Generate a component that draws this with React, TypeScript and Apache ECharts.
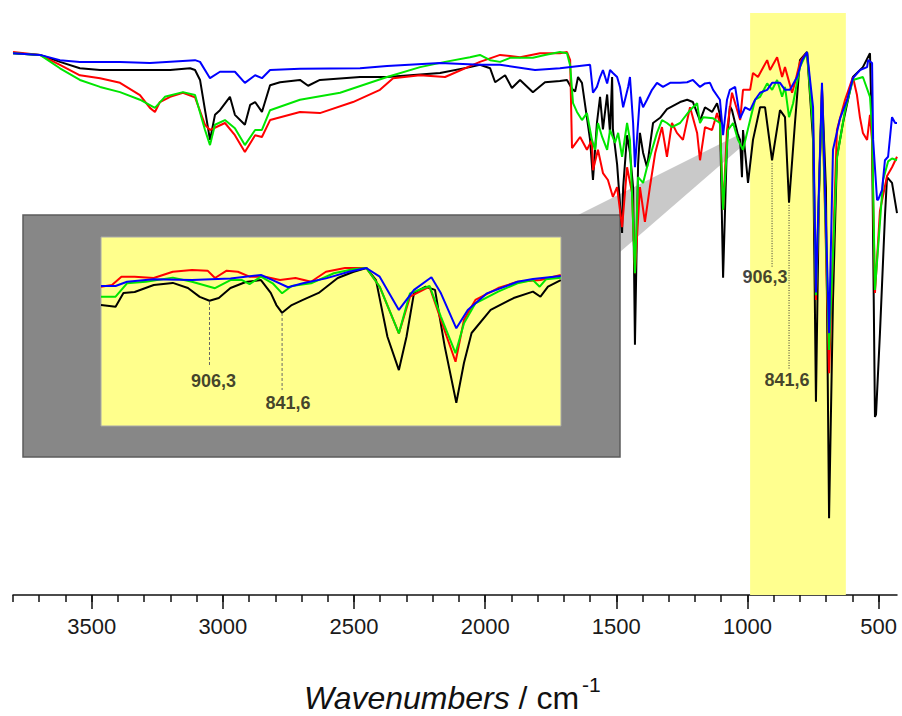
import React, { useEffect, useRef } from "react";
import * as echarts from "echarts";

// Wavenumber axis (cm-1) — labelled and minor tick positions
const majorTicks = [3500, 3000, 2500, 2000, 1500, 1000, 500];
const minorTicks = [
  3800, 3700, 3600, 3500, 3400, 3300, 3200, 3100, 3000, 2900, 2800, 2700, 2600,
  2500, 2400, 2300, 2200, 2100, 2000, 1900, 1800, 1700, 1600, 1500, 1400, 1300,
  1200, 1100, 1000, 900, 800, 700, 600, 500,
];

// Highlighted region of the full spectrum (cm-1)
const highlightRange = [990, 625];

// Full spectra: [wavenumber, transmittance %]
const blackMain = [
  [3800, 93.1], [3697, 92.8], [3621, 91.6], [3545, 90.5], [3468, 90.2], [3316, 90.2], [3201, 90.2],
  [3125, 90.5], [3106, 90.2], [3087, 88.5], [3068, 83.3], [3049, 78.2], [3030, 82.5], [3011, 83.3],
  [2973, 85.6], [2954, 82.5], [2916, 80.8], [2896, 84.2], [2877, 84.7], [2851, 83.0], [2820, 87.6],
  [2782, 88.1], [2706, 88.5], [2675, 87.5], [2630, 88.5], [2477, 89.0], [2374, 89.0], [2172, 89.7],
  [2058, 90.7], [2020, 91.1], [1981, 90.5], [1962, 88.1], [1924, 89.3], [1898, 87.1], [1867, 88.5],
  [1818, 86.4], [1772, 88.1], [1715, 88.3], [1688, 88.5], [1669, 87.0], [1657, 86.5], [1646, 89.0],
  [1631, 88.0], [1600, 78.2], [1589, 71.3], [1574, 81.1], [1562, 85.6], [1551, 80.0], [1535, 86.0],
  [1524, 79.4], [1516, 89.0], [1513, 80.0], [1497, 74.0], [1478, 62.2], [1474, 70.0], [1459, 79.0],
  [1448, 76.0], [1436, 70.0], [1429, 43.0], [1417, 74.0], [1410, 79.4], [1398, 76.0], [1383, 73.5],
  [1360, 81.1], [1333, 82.0], [1307, 83.5], [1257, 84.7], [1230, 85.1], [1208, 84.7], [1181, 81.5],
  [1162, 83.8], [1135, 83.0], [1116, 84.5], [1105, 82.5], [1093, 54.5], [1078, 78.0], [1067, 84.0],
  [1059, 83.3], [1036, 79.0], [1028, 78.2], [1021, 71.8], [1017, 79.9], [998, 70.8], [979, 78.2],
  [952, 83.8], [933, 83.8], [906.3, 74.7], [876, 83.3], [857, 82.1], [841.6, 67.4], [819, 81.1],
  [800, 91.9], [773, 93.3], [750, 78.2], [739, 33.2], [727, 70.0], [716, 87.0], [701, 70.0],
  [689, 13.2], [674, 50.7], [659, 75.3], [636, 81.1], [598, 89.0], [560, 90.7], [533, 93.1],
  [525, 78.2], [514, 30.6], [510, 31.0], [495, 45.0], [476, 65.0], [468, 71.8], [449, 70.8], [430, 65.6],
];

const redMain = [
  [3800, 93.3], [3697, 92.8], [3621, 91.1], [3545, 89.3], [3468, 88.8], [3392, 88.0], [3316, 85.9],
  [3278, 83.7], [3259, 83.0], [3240, 84.7], [3201, 85.6], [3152, 86.3], [3106, 85.5], [3068, 80.8],
  [3049, 79.9], [2992, 81.1], [2954, 79.0], [2916, 76.1], [2877, 79.0], [2851, 78.7], [2820, 81.6],
  [2706, 83.0], [2630, 82.8], [2504, 84.7], [2401, 86.8], [2351, 88.8], [2248, 89.3], [2153, 89.0],
  [2020, 91.6], [1943, 92.8], [1867, 92.4], [1791, 93.1], [1715, 93.1], [1688, 93.3], [1676, 91.9],
  [1669, 76.8], [1665, 77.0], [1638, 78.7], [1612, 76.5], [1593, 78.2], [1589, 73.0], [1570, 76.5],
  [1551, 72.5], [1532, 71.3], [1513, 68.4], [1497, 70.1], [1478, 63.2], [1459, 73.5], [1440, 69.1],
  [1429, 55.3], [1410, 70.1], [1391, 64.1], [1372, 70.1], [1352, 75.9], [1326, 80.4], [1307, 75.3],
  [1288, 81.1], [1269, 79.4], [1246, 78.2], [1219, 83.8], [1192, 79.4], [1181, 74.7], [1162, 80.4],
  [1135, 79.9], [1116, 82.8], [1105, 81.0], [1093, 66.2], [1078, 79.9], [1059, 86.3], [1028, 81.6],
  [1017, 86.8], [990, 86.8], [979, 89.7], [960, 89.0], [925, 91.9], [914, 90.2], [887, 92.4],
  [868, 89.0], [857, 90.7], [830, 86.3], [819, 88.0], [800, 91.6], [773, 93.3], [750, 81.1],
  [739, 50.7], [716, 86.8], [689, 38.1], [659, 79.9], [628, 85.1], [598, 89.0], [583, 86.0],
  [571, 82.0], [560, 79.4], [544, 78.2], [533, 82.5], [525, 78.0], [514, 51.9], [495, 66.0],
  [468, 72.0], [449, 73.5], [430, 75.3],
];

const greenMain = [
  [3800, 93.1], [3697, 92.8], [3621, 90.5], [3545, 88.5], [3468, 87.3], [3392, 86.4], [3316, 85.1],
  [3259, 83.7], [3221, 85.6], [3152, 86.4], [3106, 85.9], [3068, 79.9], [3049, 77.3], [3030, 80.8],
  [2992, 81.6], [2954, 80.2], [2916, 77.3], [2877, 79.9], [2851, 79.9], [2820, 83.3], [2706, 85.1],
  [2553, 86.3], [2374, 89.0], [2248, 90.7], [2153, 91.6], [2058, 92.4], [2020, 92.8], [1981, 91.9],
  [1943, 91.6], [1905, 92.3], [1818, 92.3], [1772, 92.8], [1715, 93.3], [1688, 93.1], [1676, 91.0],
  [1665, 84.5], [1650, 83.0], [1631, 81.6], [1612, 82.8], [1593, 78.2], [1581, 76.5], [1570, 81.1],
  [1554, 78.7], [1535, 76.5], [1524, 79.9], [1505, 77.7], [1493, 79.4], [1478, 75.3], [1459, 81.1],
  [1448, 78.2], [1429, 55.3], [1417, 71.8], [1398, 70.8], [1383, 73.5], [1364, 76.5], [1345, 79.4],
  [1326, 81.6], [1307, 81.1], [1288, 80.4], [1257, 81.1], [1219, 83.3], [1192, 84.5], [1181, 81.1],
  [1169, 82.1], [1131, 81.9], [1105, 81.1], [1093, 66.2], [1074, 79.9], [1055, 81.1], [1036, 78.2],
  [1017, 76.5], [990, 81.6], [971, 85.1], [952, 85.6], [925, 87.9], [906, 86.8], [887, 88.5],
  [868, 85.6], [857, 87.3], [841.6, 82.1], [826, 84.5], [800, 90.7], [773, 93.3], [750, 80.0],
  [739, 51.5], [716, 85.9], [689, 42.1], [659, 75.0], [628, 83.3], [598, 88.5], [560, 89.0],
  [533, 85.6], [525, 80.0], [514, 52.4], [495, 64.0], [483, 71.3], [464, 74.5], [449, 75.0], [430, 74.7],
];

const blueMain = [
  [3800, 93.1], [3697, 92.8], [3621, 91.9], [3545, 91.6], [3392, 91.6], [3278, 91.4], [3106, 91.9],
  [3087, 91.6], [3049, 88.8], [3011, 89.9], [2954, 89.9], [2916, 88.0], [2877, 89.3], [2851, 88.8],
  [2820, 90.2], [2706, 90.4], [2477, 90.5], [2374, 90.9], [2172, 91.4], [2020, 91.1], [1943, 91.1],
  [1810, 90.2], [1715, 90.5], [1600, 91.1], [1589, 86.3], [1574, 87.3], [1562, 89.0], [1551, 90.2],
  [1535, 87.9], [1524, 90.2], [1513, 89.7], [1497, 89.0], [1486, 87.3], [1474, 83.8], [1455, 87.3],
  [1448, 89.0], [1436, 81.1], [1429, 73.5], [1410, 85.6], [1398, 83.8], [1383, 85.1], [1364, 86.8],
  [1345, 88.0], [1322, 87.3], [1295, 88.0], [1257, 88.0], [1230, 88.1], [1208, 88.5], [1181, 87.3],
  [1162, 87.9], [1143, 88.0], [1131, 86.8], [1105, 85.1], [1093, 79.0], [1078, 85.1], [1067, 86.8],
  [1047, 87.3], [1028, 81.9], [1009, 83.8], [990, 83.3], [971, 85.1], [952, 86.3], [925, 86.8],
  [906, 88.0], [876, 88.0], [857, 86.8], [838, 86.8], [811, 89.0], [792, 91.9], [773, 93.3],
  [750, 83.8], [739, 52.0], [716, 88.0], [689, 45.0], [674, 76.5], [647, 81.9], [620, 85.1],
  [598, 88.8], [571, 90.2], [544, 90.7], [540, 91.9], [525, 91.4], [521, 78.2], [506, 67.9],
  [502, 67.9], [487, 69.6], [476, 74.7], [464, 75.3], [449, 82.1], [437, 81.1], [430, 81.1],
];

// Expanded view of 1003–593 cm-1
const insetRange = [593, 1003];

const blackInset = [
  [1003, 64.0], [990, 63.1], [983, 70.4], [973, 70.9], [956, 74.6], [939, 75.7], [925.5, 73.0],
  [915, 68.3], [906.3, 66.3], [898, 67.7], [887.6, 73.0], [874, 76.2], [860.4, 77.2], [851.7, 70.4],
  [846.7, 64.0], [841.6, 59.9], [833, 64.0], [823, 66.7], [809, 70.4], [792, 78.3], [778.4, 81.5],
  [766.5, 83.6], [757.9, 77.2], [747.7, 47.2], [737.5, 29.6], [730.7, 47.2], [724, 70.4],
  [713.6, 73.7], [705.3, 72.0], [696.6, 42.0], [686.3, 12.3], [679.5, 33.3], [672.7, 49.2],
  [655.7, 61.4], [635.2, 67.7], [618, 71.1], [611.3, 68.4], [604.6, 73.7], [593.2, 77.2],
];

const redInset = [
  [1003, 73.7], [993.2, 74.6], [984.8, 79.0], [973, 79.0], [956, 78.3], [939, 81.6], [921.9, 82.5],
  [908, 82.2], [901.4, 78.3], [891, 82.2], [881, 81.6], [870.6, 79.0], [856.8, 79.0], [843.5, 77.2],
  [829.6, 78.3], [815.8, 76.3], [802.5, 81.6], [785.5, 83.6], [766.5, 83.6], [754.6, 73.7],
  [737.5, 49.0], [727.6, 68.4], [710.2, 73.7], [700, 56.1], [687, 34.0], [679.5, 56.1],
  [669.3, 66.7], [649, 73.0], [631.8, 76.3], [611.3, 77.2], [593.2, 79.9],
];

const greenInset = [
  [1003, 68.4], [990, 68.4], [979.8, 75.5], [963, 76.3], [939, 78.5], [921.9, 76.3], [901.4, 72.9],
  [887.6, 77.2], [877.3, 77.2], [870.6, 75.1], [860.4, 79.0], [850, 75.5], [841.6, 70.2], [833, 74.1],
  [815.8, 75.5], [795.5, 80.8], [778.4, 82.9], [766.5, 83.6], [754.6, 73.7], [737.5, 49.0],
  [727.6, 70.2], [710.2, 74.1], [700, 57.8], [687, 38.5], [679.5, 54.3], [669.3, 64.9], [649, 71.1],
  [631.8, 75.5], [618, 77.2], [612, 73.7], [606.4, 77.6], [593.2, 78.5],
];

const blueInset = [
  [1003, 74.1], [990, 74.1], [979.8, 76.3], [956, 77.6], [921.9, 77.2], [887.6, 78.1], [860.4, 79.9],
  [850, 77.2], [836.3, 73.4], [823, 75.5], [802.5, 78.1], [782, 81.6], [766.5, 83.6], [754.6, 79.0],
  [737.5, 61.4], [724, 72.0], [708.5, 78.7], [700, 70.2], [686.3, 51.7], [676.1, 61.4], [659, 70.2],
  [631.8, 76.3], [618, 77.8], [593.2, 79.4],
];

// Band assignments: wavenumber, label, and the span of the guide line
const peakMarksMain = [
  { w: 906.3, text: "906,3", top: 74.2, bottom: 56.2 },
  { w: 841.6, text: "841,6", top: 67.0, bottom: 38.7 },
];
const peakMarksInset = [
  { w: 906.3, text: "906,3", top: 65.6, bottom: 31.2 },
  { w: 841.6, text: "841,6", top: 59.8, bottom: 19.0 },
];

const FONT = "'Liberation Sans', Arial, Helvetica, sans-serif";

function spectrum(data: number[][], color: string, gi: number) {
  return {
    type: "line",
    data,
    xAxisIndex: gi === 0 ? 0 : 2,
    yAxisIndex: gi,
    symbol: "none",
    showSymbol: false,
    silent: true,
    z: 3,
    lineStyle: { color, width: 2 },
    itemStyle: { color },
  };
}

function guideLine(w: number, top: number, bottom: number, gi: number, dashed: boolean) {
  return {
    type: "line",
    data: [
      [w, top],
      [w, bottom],
    ],
    xAxisIndex: gi === 0 ? 0 : 2,
    yAxisIndex: gi,
    symbol: "none",
    silent: true,
    z: 4,
    lineStyle: { color: dashed ? "#666" : "#333", width: 1, type: dashed ? [3, 2] : [1, 1.5] },
  };
}

function peakLabels(marks: typeof peakMarksMain, gi: number, offsets: number[][], distances: number[]) {
  return {
    type: "scatter",
    xAxisIndex: gi === 0 ? 0 : 2,
    yAxisIndex: gi,
    symbolSize: 1,
    silent: true,
    z: 5,
    itemStyle: { color: "rgba(0,0,0,0)" },
    data: marks.map((m, i) => ({
      value: [m.w, m.bottom],
      label: {
        show: true,
        formatter: m.text,
        position: "bottom",
        distance: distances[i],
        offset: offsets[i],
        fontSize: 18,
        fontWeight: "bold",
        fontFamily: FONT,
        color: "#111",
      },
    })),
  };
}

export default function App() {
  const ref = useRef<HTMLDivElement>(null);

  useEffect(() => {
    if (!ref.current) return;
    const chart = echarts.init(ref.current, undefined, { renderer: "svg" });

    const option = {
      animation: false,
      backgroundColor: "#ffffff",
      grid: [
        { left: 13, right: 5, top: 13, bottom: 121 },
        { left: 101, top: 237, width: 460, height: 189 },
      ],
      xAxis: [
        {
          type: "value",
          gridIndex: 0,
          min: 430,
          max: 3800,
          inverse: true,
          position: "bottom",
          splitLine: { show: false },
          axisLine: { show: true, lineStyle: { color: "#111", width: 1.5 } },
          axisTick: {
            show: true,
            inside: false,
            length: 14,
            customValues: majorTicks,
            lineStyle: { color: "#111", width: 1.5 },
          },
          axisLabel: {
            customValues: majorTicks,
            formatter: (v: number) => String(v),
            margin: 20,
            fontSize: 22,
            color: "#1a1a1a",
            fontFamily: FONT,
          },
        },
        {
          type: "value",
          gridIndex: 0,
          min: 430,
          max: 3800,
          inverse: true,
          position: "bottom",
          splitLine: { show: false },
          axisLine: { show: false },
          axisTick: {
            show: true,
            inside: false,
            length: 7,
            customValues: minorTicks,
            lineStyle: { color: "#111", width: 1.5 },
          },
          axisLabel: { show: false },
        },
        {
          type: "value",
          gridIndex: 1,
          min: insetRange[0],
          max: insetRange[1],
          inverse: true,
          show: false,
        },
      ],
      yAxis: [
        { type: "value", gridIndex: 0, min: 0, max: 100, show: false },
        { type: "value", gridIndex: 1, min: 0, max: 100, show: false },
      ],
      graphic: [
        {
          type: "polygon",
          z: 0,
          silent: true,
          shape: {
            points: [
              [578, 215],
              [740, 134],
              [740, 148],
              [620, 252],
              [620, 215],
            ],
          },
          style: { fill: "#c9c9c9" },
        },
        {
          type: "rect",
          z: 0,
          silent: true,
          shape: { x: 23, y: 215, width: 597, height: 242 },
          style: { fill: "#878787", stroke: "#5c5c5c", lineWidth: 1.5 },
        },
        {
          type: "rect",
          z: 1,
          silent: true,
          shape: { x: 101, y: 237, width: 460, height: 189 },
          style: { fill: "#ffff8c", stroke: "#a8a8a8", lineWidth: 1 },
        },
        {
          type: "text",
          z: 5,
          x: 304,
          y: 698,
          style: {
            text: "{a|Wavenumbers}{b| / cm}",
            verticalAlign: "middle",
            align: "left",
            fill: "#111",
            rich: {
              a: { fontSize: 32, fontStyle: "italic", fontFamily: FONT, fill: "#111" },
              b: { fontSize: 32, fontFamily: FONT, fill: "#111" },
            },
          },
        },
        {
          type: "text",
          z: 5,
          x: 582,
          y: 684,
          style: {
            text: "-1",
            fontSize: 21,
            fontFamily: FONT,
            fill: "#111",
            verticalAlign: "middle",
            align: "left",
          },
        },
      ],
      series: [
        {
          type: "line",
          xAxisIndex: 0,
          yAxisIndex: 0,
          data: [],
          silent: true,
          z: 1,
          markArea: {
            silent: true,
            itemStyle: { color: "#ffff8f" },
            data: [[{ xAxis: highlightRange[0] }, { xAxis: highlightRange[1] }]],
          },
        },
        spectrum(blackMain, "#000000", 0),
        spectrum(redMain, "#ff0000", 0),
        spectrum(greenMain, "#00e600", 0),
        spectrum(blueMain, "#0000ff", 0),
        spectrum(blackInset, "#000000", 1),
        spectrum(redInset, "#ff0000", 1),
        spectrum(greenInset, "#00e600", 1),
        spectrum(blueInset, "#0000ff", 1),
        ...peakMarksMain.map((m) => guideLine(m.w, m.top, m.bottom, 0, false)),
        ...peakMarksInset.map((m) => guideLine(m.w, m.top, m.bottom, 1, true)),
        peakLabels(peakMarksMain, 0, [[-7, 0], [-2, 0]], [0, 1]),
        peakLabels(peakMarksInset, 1, [[4, 0], [6, 0]], [4, 3]),
      ],
    };

    chart.setOption(option as any);
    return () => chart.dispose();
  }, []);

  return (
    <div
      ref={ref}
      style={{ position: "fixed", left: 0, top: 0, width: 902, height: 716, background: "#fff" }}
    />
  );
}
